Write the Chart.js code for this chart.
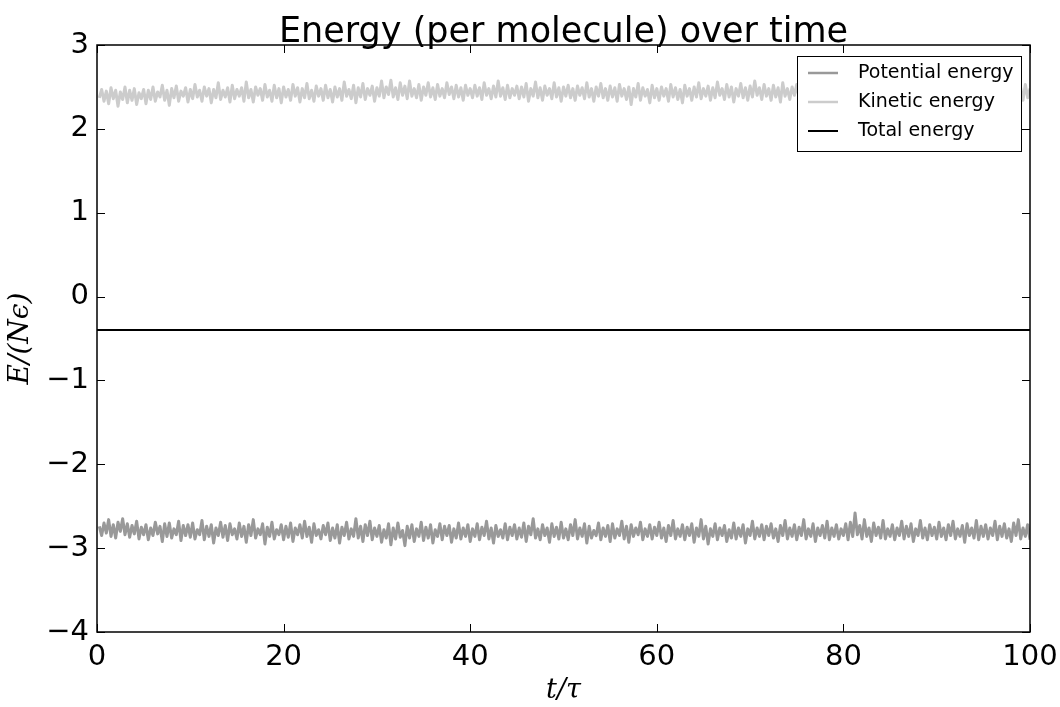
<!DOCTYPE html>
<html>
<head>
<meta charset="utf-8">
<script src="https://cdn.jsdelivr.net/npm/chart.js@4.4.1/dist/chart.umd.min.js"></script>
<style>
  html, body { margin: 0; padding: 0; background: #fff; }
  #wrap { width: 1060px; height: 707px; }
</style>
</head>
<body>
<div id="wrap"><canvas id="chartEnergy" width="1060" height="707"></canvas></div>
<script>
// ── data ──
const TITLE = 'Energy (per molecule) over time';
const X_TICKS = [0, 20, 40, 60, 80, 100];
const Y_TICKS = [-4, -3, -2, -1, 0, 1, 2, 3];
const T_START = 0.25, T_STEP = 0.25;   // sampling of the time series (400 samples)

// E_pot per molecule (20 samples = 5 tau per row)
const POTENTIAL = [
  -2.74,-2.85,-2.70,-2.82,-2.66,-2.86,-2.72,-2.88,-2.69,-2.80,-2.65,-2.84,-2.71,-2.87,-2.73,-2.83,-2.68,-2.89,-2.75,-2.84,
  -2.72,-2.90,-2.76,-2.85,-2.69,-2.83,-2.74,-2.92,-2.71,-2.86,-2.70,-2.88,-2.77,-2.84,-2.68,-2.91,-2.73,-2.85,-2.72,-2.87,
  -2.70,-2.89,-2.78,-2.84,-2.67,-2.90,-2.74,-2.86,-2.72,-2.94,-2.76,-2.85,-2.69,-2.87,-2.73,-2.91,-2.71,-2.84,-2.77,-2.89,
  -2.70,-2.86,-2.74,-2.93,-2.72,-2.85,-2.66,-2.88,-2.77,-2.84,-2.71,-2.95,-2.75,-2.86,-2.69,-2.89,-2.78,-2.84,-2.72,-2.90,
  -2.74,-2.87,-2.70,-2.92,-2.76,-2.84,-2.72,-2.88,-2.68,-2.86,-2.75,-2.93,-2.71,-2.85,-2.78,-2.89,-2.73,-2.84,-2.70,-2.91,
  -2.76,-2.88,-2.72,-2.94,-2.75,-2.85,-2.69,-2.89,-2.77,-2.86,-2.65,-2.88,-2.74,-2.92,-2.72,-2.85,-2.68,-2.90,-2.76,-2.86,
  -2.73,-2.93,-2.78,-2.88,-2.71,-2.96,-2.76,-2.89,-2.70,-2.87,-2.79,-2.97,-2.74,-2.88,-2.72,-2.92,-2.77,-2.86,-2.69,-2.91,
  -2.75,-2.88,-2.72,-2.94,-2.78,-2.86,-2.71,-2.90,-2.74,-2.85,-2.73,-2.93,-2.77,-2.88,-2.70,-2.89,-2.76,-2.86,-2.72,-2.92,
  -2.77,-2.86,-2.71,-2.90,-2.75,-2.85,-2.68,-2.89,-2.76,-2.94,-2.73,-2.86,-2.78,-2.88,-2.71,-2.90,-2.75,-2.85,-2.72,-2.89,
  -2.76,-2.87,-2.70,-2.92,-2.74,-2.84,-2.65,-2.88,-2.77,-2.90,-2.72,-2.85,-2.76,-2.93,-2.71,-2.86,-2.75,-2.89,-2.69,-2.88,
  -2.77,-2.90,-2.72,-2.85,-2.66,-2.89,-2.76,-2.86,-2.71,-2.94,-2.74,-2.88,-2.79,-2.85,-2.70,-2.90,-2.76,-2.86,-2.73,-2.92,
  -2.71,-2.88,-2.77,-2.85,-2.68,-2.89,-2.74,-2.93,-2.72,-2.86,-2.76,-2.84,-2.69,-2.90,-2.77,-2.86,-2.72,-2.89,-2.75,-2.85,
  -2.69,-2.88,-2.76,-2.92,-2.73,-2.85,-2.67,-2.89,-2.77,-2.86,-2.72,-2.90,-2.75,-2.85,-2.71,-2.93,-2.76,-2.86,-2.66,-2.89,
  -2.74,-2.95,-2.77,-2.86,-2.71,-2.90,-2.76,-2.85,-2.73,-2.92,-2.78,-2.88,-2.70,-2.89,-2.76,-2.86,-2.72,-2.94,-2.77,-2.85,
  -2.68,-2.89,-2.76,-2.86,-2.72,-2.90,-2.74,-2.85,-2.71,-2.88,-2.77,-2.92,-2.73,-2.85,-2.67,-2.89,-2.76,-2.86,-2.72,-2.90,
  -2.75,-2.85,-2.66,-2.89,-2.77,-2.86,-2.71,-2.92,-2.76,-2.85,-2.73,-2.88,-2.68,-2.90,-2.76,-2.86,-2.72,-2.89,-2.77,-2.85,
  -2.71,-2.90,-2.69,-2.86,-2.58,-2.84,-2.73,-2.89,-2.66,-2.86,-2.76,-2.92,-2.70,-2.85,-2.75,-2.88,-2.67,-2.89,-2.77,-2.86,
  -2.72,-2.90,-2.76,-2.85,-2.68,-2.89,-2.74,-2.86,-2.71,-2.92,-2.77,-2.85,-2.67,-2.88,-2.76,-2.90,-2.72,-2.85,-2.75,-2.89,
  -2.69,-2.86,-2.76,-2.90,-2.72,-2.85,-2.68,-2.89,-2.77,-2.86,-2.73,-2.93,-2.71,-2.85,-2.76,-2.88,-2.67,-2.90,-2.74,-2.86,
  -2.72,-2.89,-2.76,-2.85,-2.68,-2.90,-2.74,-2.86,-2.71,-2.88,-2.77,-2.92,-2.70,-2.85,-2.66,-2.89,-2.76,-2.86,-2.72,-2.90
];

// E_kin per molecule, same sampling
const KINETIC = [
  2.37,2.47,2.33,2.45,2.30,2.49,2.36,2.46,2.27,2.44,2.35,2.50,2.31,2.46,2.34,2.48,2.29,2.43,2.36,2.47,
  2.30,2.46,2.35,2.50,2.33,2.44,2.38,2.52,2.34,2.46,2.28,2.48,2.37,2.51,2.33,2.45,2.39,2.49,2.32,2.47,
  2.36,2.53,2.38,2.46,2.33,2.50,2.39,2.48,2.31,2.47,2.37,2.55,2.35,2.46,2.38,2.49,2.32,2.52,2.36,2.47,
  2.39,2.49,2.33,2.56,2.37,2.47,2.32,2.50,2.40,2.48,2.34,2.53,2.38,2.46,2.33,2.52,2.37,2.48,2.31,2.50,
  2.38,2.47,2.34,2.53,2.39,2.49,2.32,2.48,2.37,2.54,2.36,2.46,2.33,2.51,2.39,2.48,2.34,2.52,2.37,2.47,
  2.32,2.50,2.38,2.48,2.34,2.56,2.39,2.47,2.36,2.52,2.31,2.49,2.38,2.54,2.35,2.48,2.40,2.51,2.33,2.49,
  2.39,2.57,2.37,2.50,2.41,2.58,2.38,2.49,2.35,2.55,2.40,2.51,2.36,2.57,2.39,2.48,2.37,2.53,2.34,2.50,
  2.40,2.55,2.38,2.49,2.35,2.53,2.39,2.48,2.37,2.55,2.41,2.50,2.36,2.52,2.38,2.49,2.34,2.52,2.40,2.48,
  2.37,2.52,2.39,2.49,2.35,2.55,2.40,2.48,2.36,2.51,2.38,2.57,2.39,2.49,2.35,2.52,2.37,2.48,2.40,2.51,
  2.36,2.50,2.38,2.54,2.33,2.48,2.39,2.56,2.37,2.49,2.34,2.51,2.40,2.48,2.36,2.55,2.38,2.49,2.33,2.50,
  2.39,2.52,2.37,2.48,2.34,2.51,2.40,2.49,2.36,2.55,2.38,2.48,2.33,2.50,2.39,2.54,2.37,2.48,2.34,2.51,
  2.38,2.49,2.33,2.53,2.39,2.48,2.35,2.50,2.29,2.48,2.38,2.54,2.34,2.49,2.39,2.47,2.31,2.52,2.37,2.48,
  2.34,2.50,2.39,2.48,2.33,2.53,2.38,2.49,2.35,2.47,2.31,2.52,2.39,2.48,2.34,2.50,2.38,2.55,2.36,2.48,
  2.39,2.51,2.34,2.49,2.37,2.56,2.40,2.48,2.35,2.53,2.38,2.50,2.32,2.48,2.39,2.54,2.37,2.49,2.34,2.51,
  2.38,2.57,2.40,2.49,2.35,2.53,2.39,2.48,2.34,2.52,2.38,2.49,2.32,2.55,2.39,2.48,2.35,2.50,2.40,2.53,
  2.37,2.48,2.34,2.52,2.39,2.49,2.31,2.53,2.38,2.48,2.35,2.50,2.29,2.49,2.39,2.47,2.33,2.52,2.37,2.48,
  2.32,2.50,2.38,2.48,2.35,2.53,2.39,2.49,2.31,2.47,2.37,2.52,2.34,2.48,2.39,2.50,2.32,2.49,2.38,2.48,
  2.34,2.52,2.39,2.48,2.35,2.50,2.31,2.49,2.38,2.47,2.34,2.53,2.39,2.48,2.32,2.50,2.37,2.49,2.34,2.52,
  2.38,2.48,2.32,2.50,2.39,2.47,2.34,2.53,2.37,2.48,2.30,2.49,2.38,2.47,2.35,2.52,2.39,2.48,2.32,2.50,
  2.37,2.47,2.29,2.49,2.38,2.48,2.34,2.52,2.39,2.47,2.35,2.50,2.31,2.48,2.38,2.49,2.34,2.53,2.37,2.48
];

// total energy stays flat
const TOTAL_T = [0, 100];
const TOTAL = [-0.40, -0.40];

const SERIES = [
  { label: 'Potential energy', data: POTENTIAL, color: '#999999', width: 3 },
  { label: 'Kinetic energy', data: KINETIC, color: '#cccccc', width: 3 },
  { label: 'Total energy', data: TOTAL, t: TOTAL_T, color: '#000000', width: 2 }
];

// ── helpers ──
const PLOT = { left: 97, right: 1030, top: 45, bottom: 632 };
const fmtNum = v => v < 0 ? '\u2212' + Math.abs(v) : String(v);
const toPoints = s => s.data.map((y, i) => ({ x: s.t ? s.t[i] : T_START + T_STEP * i, y }));

// inward ticks on all four sides + frame (matplotlib classic look)
const frameTicks = {
  id: 'frameTicks',
  afterDatasetsDraw(chart) {
    const { ctx, chartArea: a, scales } = chart;
    const len = 8;
    ctx.save();
    ctx.strokeStyle = '#000';
    ctx.lineWidth = 1;
    X_TICKS.forEach(v => {
      const x = Math.round(scales.x.getPixelForValue(v)) + 0.5;
      ctx.beginPath();
      ctx.moveTo(x, a.bottom); ctx.lineTo(x, a.bottom - len);
      ctx.moveTo(x, a.top); ctx.lineTo(x, a.top + len);
      ctx.stroke();
    });
    Y_TICKS.forEach(v => {
      const y = Math.round(scales.y.getPixelForValue(v)) + 0.5;
      ctx.beginPath();
      ctx.moveTo(a.left, y); ctx.lineTo(a.left + len, y);
      ctx.moveTo(a.right, y); ctx.lineTo(a.right - len, y);
      ctx.stroke();
    });
    ctx.lineWidth = 1.5;
    ctx.strokeRect(a.left, a.top, a.right - a.left, a.bottom - a.top);
    ctx.restore();
  }
};

// title + boxed legend in the upper-right corner
const annot = {
  id: 'annot',
  afterDraw(chart) {
    const { ctx, chartArea: a } = chart;
    ctx.save();
    ctx.fillStyle = '#000';
    ctx.font = '35px "DejaVu Sans"';
    ctx.textAlign = 'center';
    ctx.textBaseline = 'alphabetic';
    ctx.fillText(TITLE, (a.left + a.right) / 2, 42);

    const bx = 797, by = 56, bw = 224, bh = 95;
    ctx.fillStyle = '#fff';
    ctx.fillRect(bx, by, bw, bh);
    ctx.strokeStyle = '#000';
    ctx.lineWidth = 1;
    ctx.strokeRect(bx + 0.5, by + 0.5, bw, bh);
    ctx.font = '19px "DejaVu Sans"';
    ctx.textAlign = 'left';
    ctx.textBaseline = 'middle';
    SERIES.forEach((s, i) => {
      const y = by + 17 + i * 29;
      ctx.strokeStyle = s.color;
      ctx.lineWidth = Math.min(s.width, 2.5);
      ctx.beginPath();
      ctx.moveTo(808, y); ctx.lineTo(838, y);
      ctx.stroke();
      ctx.fillStyle = '#000';
      ctx.fillText(s.label, 858, y);
    });
    ctx.restore();
  }
};

const ctx = document.getElementById('chartEnergy').getContext('2d');
new Chart(ctx, {
  type: 'line',
  data: {
    datasets: SERIES.map(s => ({
      label: s.label,
      data: toPoints(s),
      borderColor: s.color,
      borderWidth: s.width,
      borderJoinStyle: 'round',
      pointRadius: 0,
      tension: 0,
      fill: false
    }))
  },
  options: {
    responsive: false,
    animation: false,
    layout: { padding: { left: 4, right: 1060 - PLOT.right, top: PLOT.top, bottom: 0 } },
    plugins: { legend: { display: false }, title: { display: false }, tooltip: { enabled: false } },
    scales: {
      x: {
        type: 'linear', min: 0, max: 100,
        afterBuildTicks: sc => { sc.ticks = X_TICKS.map(value => ({ value })); },
        afterFit: sc => { sc.height = 707 - PLOT.bottom; sc.paddingLeft = 0; sc.paddingRight = 0; },
        grid: { display: false, drawTicks: false },
        border: { display: false },
        ticks: { color: '#000', padding: 8, font: { family: 'DejaVu Sans', size: 29 }, callback: fmtNum, maxRotation: 0 },
        title: { display: true, text: 't/\u03c4', color: '#000', padding: { top: 0, bottom: 0 },
                 font: { family: 'DejaVu Serif', style: 'italic', size: 27 } }
      },
      y: {
        min: -4, max: 3,
        afterBuildTicks: sc => { sc.ticks = Y_TICKS.map(value => ({ value })); },
        afterFit: sc => { sc.width = PLOT.left - 4; sc.paddingTop = 0; sc.paddingBottom = 0; },
        grid: { display: false, drawTicks: false },
        border: { display: false },
        ticks: { color: '#000', padding: 8, font: { family: 'DejaVu Sans', size: 29 }, callback: fmtNum },
        title: { display: true, text: 'E/(N\u03f5)', color: '#000', padding: { top: 0, bottom: 0 },
                 font: { family: 'DejaVu Serif', style: 'italic', size: 28 } }
      }
    }
  },
  plugins: [frameTicks, annot]
});
</script>
</body>
</html>
